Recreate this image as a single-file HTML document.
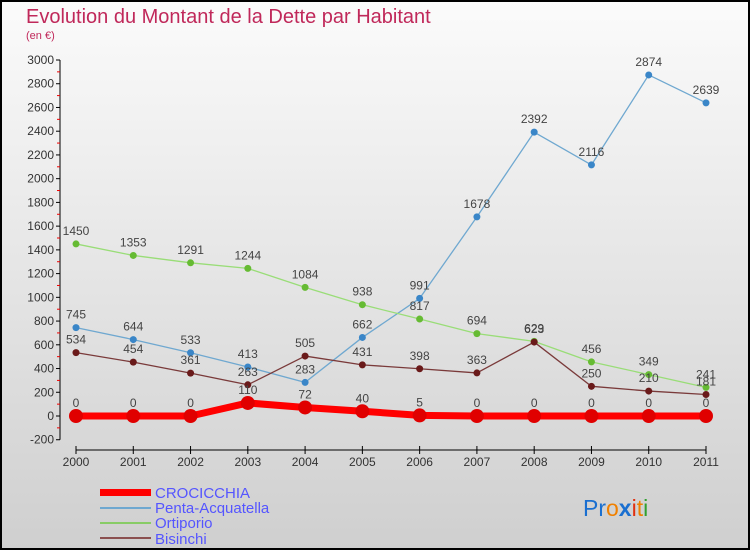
<!DOCTYPE html>
<html><head><meta charset="utf-8"><style>
body{margin:0;width:750px;height:550px;overflow:hidden}
svg{display:block;font-family:"Liberation Sans","DejaVu Sans",sans-serif}
</style></head><body>
<svg id="chart" width="750" height="550">
<defs><linearGradient id="bg" x1="0" y1="0" x2="0" y2="1"><stop offset="0" stop-color="#fbfbfb"/><stop offset="1" stop-color="#cfcfcf"/></linearGradient></defs>
<rect x="1" y="1" width="748" height="548" fill="url(#bg)" stroke="#000" stroke-width="2"/>
<text x="26" y="23" font-size="20" fill="#c0285a">Evolution du Montant de la Dette par Habitant</text>
<text x="26" y="39" font-size="11" fill="#c0285a">(en €)</text>
<g id="axes"></g><g id="series"></g>
<g>
<rect x="100" y="489" width="51" height="7" fill="#f00"/>
<line x1="100" y1="508" x2="151" y2="508" stroke="#6fa8d0" stroke-width="2"/>
<line x1="100" y1="523" x2="151" y2="523" stroke="#88cc66" stroke-width="2"/>
<line x1="100" y1="538" x2="151" y2="538" stroke="#8b5050" stroke-width="2"/>
<g font-size="15" fill="#5555ff">
<text x="155" y="498">CROCICCHIA</text>
<text x="155" y="513">Penta-Acquatella</text>
<text x="155" y="528">Ortiporio</text>
<text x="155" y="544">Bisinchi</text>
</g></g>
<text x="583" y="516" font-size="23"><tspan fill="#1a6fd0">Pr</tspan><tspan fill="#f08000">o</tspan><tspan fill="#1a6fd0" font-weight="bold">x</tspan><tspan fill="#e03010">i</tspan><tspan fill="#f08000">t</tspan><tspan fill="#30a030">i</tspan></text>
</svg>
<script>
const years=[2000,2001,2002,2003,2004,2005,2006,2007,2008,2009,2010,2011];
const crocicchia=[0,0,0,110,72,40,5,0,0,0,0,0];
const penta=[745,644,533,413,283,662,991,1678,2392,2116,2874,2639];
const ortiporio=[1450,1353,1291,1244,1084,938,817,694,629,456,349,241];
const bisinchi=[534,454,361,263,505,431,398,363,623,250,210,181];
const yTicks=[-200,0,200,400,600,800,1000,1200,1400,1600,1800,2000,2200,2400,2600,2800,3000];
const NS="http://www.w3.org/2000/svg";
const x=i=>76+i*(630/11);
const y=v=>416-v*(356/3000);
function mk(t,a,p){const e=document.createElementNS(NS,t);for(const k in a)e.setAttribute(k,a[k]);p.appendChild(e);return e;}
const ax=document.getElementById('axes');
const yl=mk('line',{x1:60,y1:y(3000),x2:60,y2:y(-200),stroke:'#000'},ax);


const xl=mk('line',{x1:76,y1:450,x2:706,y2:450,stroke:'#000'},ax);


yTicks.forEach((v,k)=>{
 mk('line',{x1:56,y1:y(v),x2:60,y2:y(v),stroke:'#000'},ax);
 if(k<yTicks.length-1) mk('line',{x1:57,y1:y(v+100),x2:60,y2:y(v+100),stroke:'#e00'},ax);
 const t=mk('text',{x:54,y:y(v)+4,'font-size':12,fill:'#333','text-anchor':'end'},ax);
 t.textContent=v;
 
 
});
years.forEach((yr,i)=>{
 mk('line',{x1:x(i),y1:446,x2:x(i),y2:454,stroke:'#000'},ax);
 const t=mk('text',{x:x(i),y:466,'font-size':12,fill:'#333','text-anchor':'middle'},ax);
 t.textContent=yr;
 
 
});
const sg=document.getElementById('series');
function draw(data,color,dot,w,r,name){
 const g=mk('g',{},sg);
 
 
 mk('polyline',{points:data.map((v,i)=>x(i)+','+y(v)).join(' '),fill:'none',stroke:color,'stroke-width':w,'stroke-linejoin':'round'},g);
 data.forEach((v,i)=>{
  const c=mk('circle',{cx:x(i),cy:y(v),r:r,fill:dot},g);
  
  
  const t=mk('text',{x:x(i),y:y(v)-9,'font-size':12,fill:'#444','text-anchor':'middle'},g);
  t.textContent=v;
  
  
 });
}
draw(penta,'#6fa8d0','#3a86c8',1.3,3.5,'series-penta');
draw(ortiporio,'#99dd77','#66bb33',1.3,3.5,'series-ortiporio');
draw(bisinchi,'#7a3a3a','#6a1a1a',1.3,3.5,'series-bisinchi');
draw(crocicchia,'#f00','#e00000',7,7,'series-crocicchia');
</script>
</body></html>
